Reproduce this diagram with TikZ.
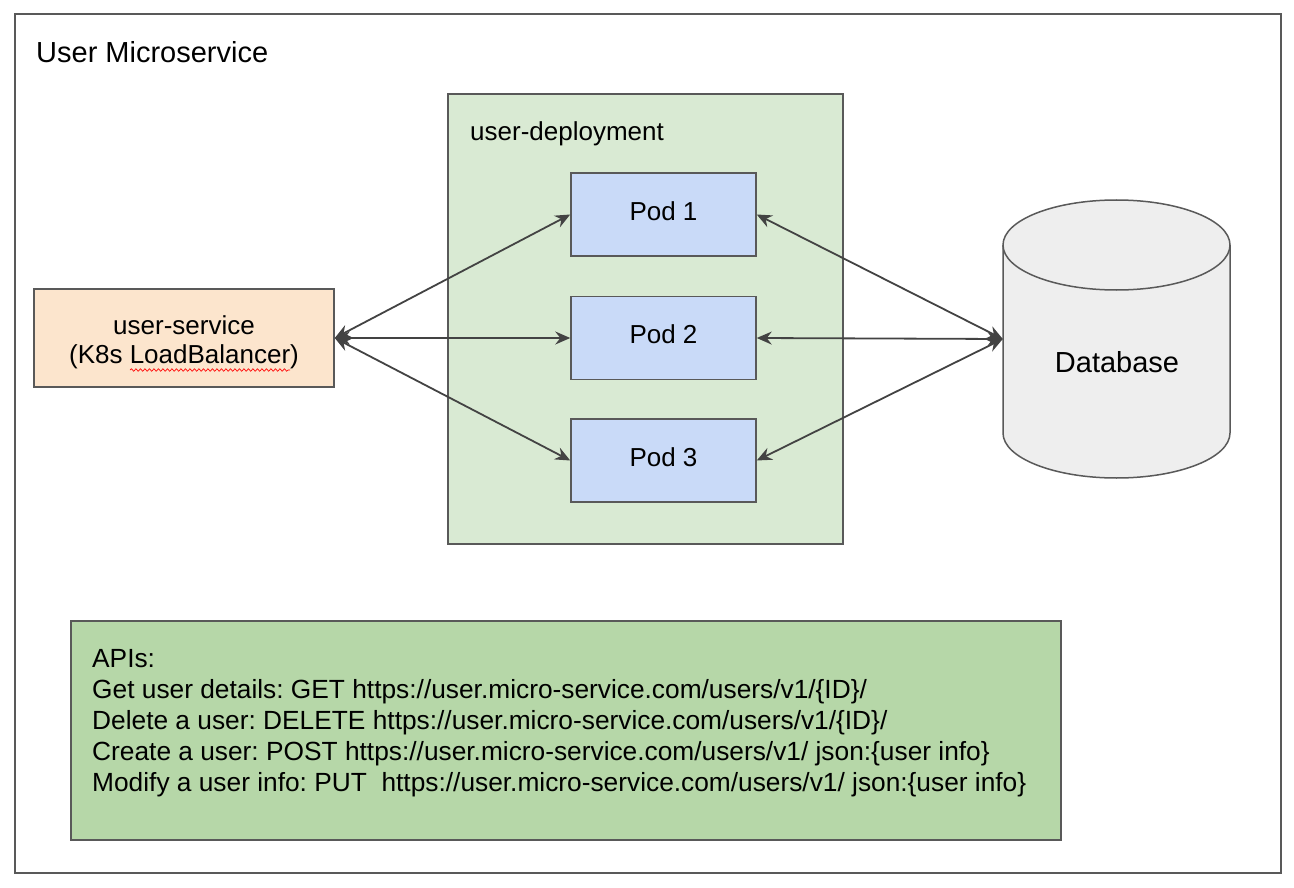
\documentclass[tikz,border=0pt]{standalone}
\usepackage{fontspec}
\setmainfont{Liberation Sans}
\usetikzlibrary{arrows.meta,decorations.pathmorphing}
\definecolor{edgec}{HTML}{595959}
\definecolor{arrowc}{HTML}{434343}
\definecolor{depfill}{HTML}{D9EAD3}
\definecolor{podfill}{HTML}{C9DAF8}
\definecolor{svcfill}{HTML}{FCE5CD}
\definecolor{dbfill}{HTML}{EEEEEE}
\definecolor{apifill}{HTML}{B6D7A8}
\frenchspacing
\begin{document}
\begin{tikzpicture}[x=1pt,y=-1pt,
  txt/.style={font=\fontsize{26}{31}\selectfont},
  bigtxt/.style={font=\fontsize{29}{34}\selectfont},
  box/.style={draw=edgec, line width=1.5pt, inner sep=0pt, txt},
  podbox/.style={box, fill=podfill, minimum width=185pt, minimum height=83pt,
    text height=19pt, text depth=8pt},
  link/.style={draw=arrowc, line width=1.8pt,
    {Stealth[length=15pt,width=13pt,inset=5pt]}-{Stealth[length=15pt,width=13pt,inset=5pt]}}]
\useasboundingbox (0,0) rectangle (1294,888);
\fill[white] (0,0) rectangle (1294,888);
% outer frame
\node[box, minimum width=1266pt, minimum height=859pt] (frame) at (648,443.5) {};
\node[bigtxt, anchor=west, inner sep=0pt] (title) at (36,52) {User Microservice};
% deployment
\node[box, fill=depfill, minimum width=395pt, minimum height=450pt] (dep) at (645.5,319) {};
\node[txt, anchor=base west, inner sep=0pt] (deplabel) at (470,141) {user-deployment};
% pods
\node[podbox] (pod1) at (663.5,214.5) {Pod 1};
\node[podbox] (pod2) at (663.5,338) {Pod 2};
\node[podbox] (pod3) at (663.5,460.5) {Pod 3};
% service
\node[box, fill=svcfill, minimum width=300pt, minimum height=98pt] (svc) at (184,338) {};
\node[font=\fontsize{26}{29}\selectfont, align=center, inner sep=0pt] (svclabel) at (184,342) {user-service\\(K8s LoadBalancer)};
\draw[red, line width=0.7pt, decorate, decoration={snake, amplitude=1.2pt, segment length=4.5pt}] (130,370) -- (290,370);
% database
\draw[draw=edgec, line width=1.5pt, fill=dbfill]
  (1003,245) -- (1003,433) arc (180:0:113.5 and 45) -- (1230,245) arc (0:-180:113.5 and 45) -- cycle;
\draw[draw=edgec, line width=1.5pt] (1003,245) arc (180:0:113.5 and 45);
\node[minimum width=227pt, minimum height=278pt, inner sep=0pt] (db) at (1116.5,339) {};
\node[bigtxt, inner sep=0pt] (dblabel) at (1117,362) {Database};
% connectors
\draw[link] (svc.east) -- (pod1.west);
\draw[link] (svc.east) -- (pod2.west);
\draw[link] (svc.east) -- (pod3.west);
\draw[link] (db.west) -- (pod1.east);
\draw[link] (db.west) -- (pod2.east);
\draw[link] (db.west) -- (pod3.east);
% APIs
\node[box, fill=apifill, minimum width=990pt, minimum height=219pt] (api) at (566,730.5) {};
\node[font=\fontsize{26.3}{31}\selectfont, anchor=north west, inner sep=0pt, align=left] (apitext) at (92,649) {APIs:\\
Get user details: GET https://user.micro-service.com/users/v1/\{ID\}/\\
Delete a user: DELETE https://user.micro-service.com/users/v1/\{ID\}/\\
Create a user: POST https://user.micro-service.com/users/v1/ json:\{user info\}\\
Modify a user info: PUT\ \ https://user.micro-service.com/users/v1/ json:\{user info\}};
\end{tikzpicture}
\end{document}
